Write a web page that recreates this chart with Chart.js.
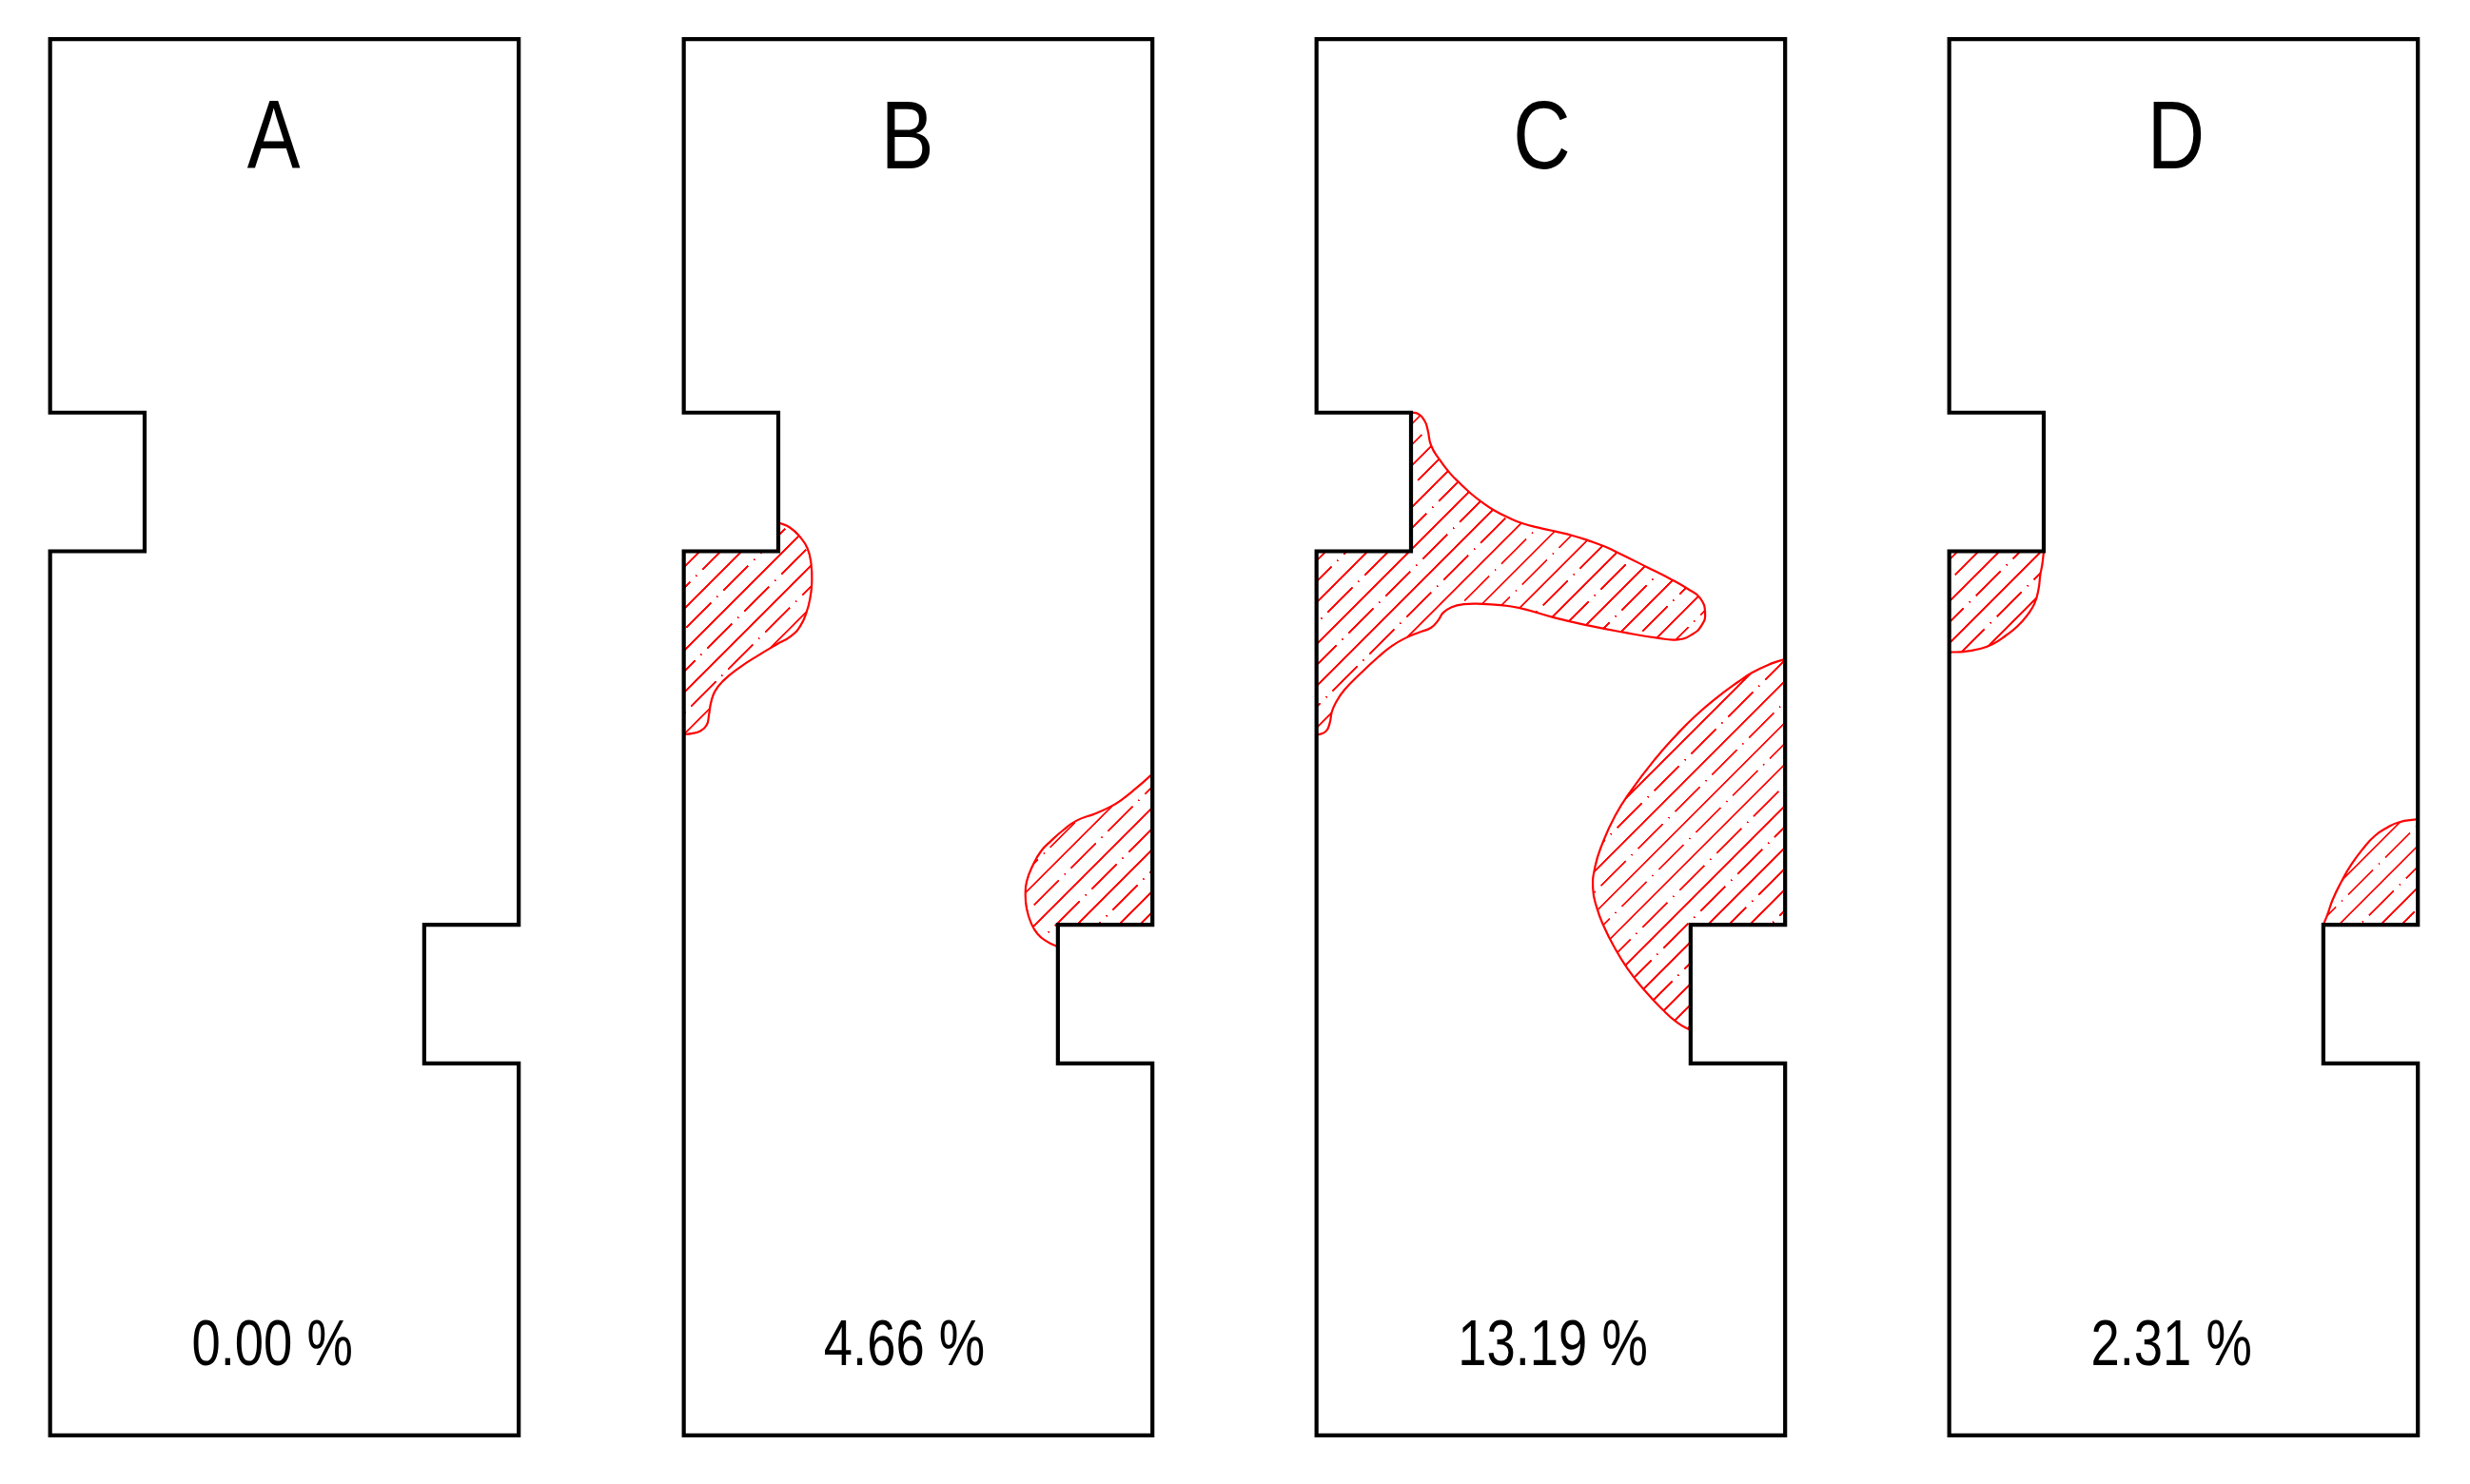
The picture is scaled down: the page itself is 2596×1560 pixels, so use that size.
<!DOCTYPE html>
<html>
<head>
<meta charset="utf-8">
<title>Panels A-D</title>
<script src="https://cdn.jsdelivr.net/npm/chart.js"></script>
<style>
  html, body { margin: 0; padding: 0; background: #fff; width: 2596px; height: 1560px; overflow: hidden; }
  canvas { position: absolute; }
</style>
</head>
<body>
<script>
// panel names and area shares
const panelNames = ["A", "B", "C", "D"];
const areaLabels = ["0.00 %", "4.66 %", "13.19 %", "2.31 %"];

// outline of the slab, same for all four panels
const outlineX = [0, 297.5, 297.5, 237.5, 237.5, 297.5, 297.5, 0, 0, 60, 60, 0, 0];
const outlineY = [0, 0, 562, 562, 650, 650, 886, 886, 325, 325, 237, 237, 0];

// panel B, zone at the left notch
const bLeftX = [60, 67.3, 73.7, 78.5, 80.8, 81.3, 80.2, 78, 74.2, 68.3, 58.6, 47.9, 34.9, 25.2, 19.8, 17.2, 16, 14.4, 10.1, 4.7, 0];
const bLeftY = [306.7, 309.9, 315.8, 323.2, 332.6, 344.9, 354.7, 363.4, 372, 378.6, 384.3, 390.7, 399.1, 407, 413.8, 421.2, 428.6, 435.5, 439.2, 440.7, 441.2];
const bLeftEdgeX = [0, 60];
const bLeftEdgeY = [325, 325];
const bLeftDot = [34.5, 367];

// panel B, zone at the right notch
const bRightX = [297.5, 287.1, 278.5, 271, 261.3, 249.4, 240.8, 233.2, 226.8, 221.4, 217.7, 216.9, 217.7, 220.3, 224.6, 230.7, 237.5];
const bRightY = [466.3, 475.4, 482.3, 487, 491.4, 495.9, 502, 508.7, 515.3, 524.7, 534.5, 543.2, 551.8, 560.4, 567.8, 572.7, 575.9];
const bRightEdgeX = [237.5, 297.5];
const bRightEdgeY = [562, 562];
const bRightDot = [255.2, 543.2];

// panel C, zone at the left notch
const cLeftX = [60, 64.2, 68.5, 70.6, 72.8, 78.2, 84.7, 91.2, 97.6, 105.2, 112.8, 121.4, 130, 140.9, 151.7, 162.5, 173.2, 183, 191.6, 208.9, 226.2, 235.9, 243.5, 246.7, 244.5, 238, 229.4, 216.5, 194.9, 172.2, 150.6, 129, 117, 105.2, 93.3, 85.8, 80.4, 77.1, 72.8, 65.2, 56.6, 48, 39.3, 28.5, 17.7, 12.3, 9.7, 8.4, 5.8, 0];
const cLeftY = [237, 237.6, 242, 248, 258, 267, 275.4, 282, 288, 294, 299, 303.4, 307, 310, 312.4, 315, 318.4, 322, 326, 334.6, 343.4, 349, 354.6, 364, 372, 378, 381, 380, 376.4, 372, 367, 361, 359.2, 358.4, 358.6, 360.4, 364, 369, 373.4, 376.4, 380, 385, 392, 402, 413, 421, 427, 434, 439.4, 441.6];
const cLeftEdgeX = [0, 60];
const cLeftEdgeY = [325, 325];
const cLeftDot = [100.2, 323.6];

// panel C, zone at the right notch
const cRightX = [297.5, 287.8, 276.6, 267.5, 255.3, 241.1, 229, 214.8, 199.6, 189.5, 181.3, 176.9, 175.5, 177.9, 182.4, 189.5, 197.6, 207.7, 219.9, 229, 237.5];
const cRightY = [393.4, 396.6, 402, 408, 417, 429, 441, 457, 477, 493, 511, 525, 539, 551, 563, 577, 590, 603, 616, 624, 629];
const cRightEdgeX = [237.5, 297.5];
const cRightEdgeY = [562, 562];
const cRightDot = [247.2, 470.6];

// panel D, zone at the left notch
const dLeftX = [60, 59.1, 57.8, 56.7, 54.2, 49.9, 43.5, 36, 27.4, 18.8, 9.2, 0];
const dLeftY = [325, 333, 340, 349, 358, 365, 372.4, 378.4, 384, 387, 388.7, 389];
const dLeftEdgeX = [0];
const dLeftEdgeY = [325];
const dLeftDot = [26.3, 370.4];

// panel D, zone at the right notch
const dRightX = [297.5, 285.3, 277.8, 270.3, 262.8, 255.3, 248.9, 243.5, 240.3, 237.5];
const dRightY = [495, 497, 500.5, 505.5, 513.6, 523.7, 534.8, 545.9, 555, 562];
const dRightEdgeX = [297.5];
const dRightEdgeY = [562];
const dRightDot = [272.9, 523.3];

const zone = (x, y, edgeX, edgeY, dot) => ({ x, y, edgeX, edgeY, dot });
const panelZones = [
  [],
  [zone(bLeftX, bLeftY, bLeftEdgeX, bLeftEdgeY, bLeftDot), zone(bRightX, bRightY, bRightEdgeX, bRightEdgeY, bRightDot)],
  [zone(cLeftX, cLeftY, cLeftEdgeX, cLeftEdgeY, cLeftDot), zone(cRightX, cRightY, cRightEdgeX, cRightEdgeY, cRightDot)],
  [zone(dLeftX, dLeftY, dLeftEdgeX, dLeftEdgeY, dLeftDot), zone(dRightX, dRightY, dRightEdgeX, dRightEdgeY, dRightDot)]
];

// layout
const xMin = -30, xMax = 330, yMin = -20, yMax = 906;
const canvasW = 596, canvasH = 1534;
const canvasLeft = [3, 669, 1334, 1999];
const canvasTop = 8;
const namePos = [[142, 65], [142, 65], [143, 65], [144, 65]];
const labelPos = [[141, 830], [140, 830], [150, 830], [141, 830]];
const RED = "#ff0000";
const textFont = '"Liberation Sans", sans-serif';

const toPoints = (xs, ys) => xs.map((x, i) => ({ x, y: ys[i] }));

// one tile: solid row + dash-dot row, laid flat and rotated by the pattern matrix
const RES = 4, TILE_W = 55, TILE_H = 31;
function hatchTile() {
  const c = document.createElement("canvas");
  c.width = TILE_W * RES;
  c.height = TILE_H * RES;
  const g = c.getContext("2d");
  g.fillStyle = RED;
  const lw = 1.9 * RES;
  g.fillRect(0, 7.75 * RES - lw / 2, c.width, lw);
  g.fillRect(0, 23.25 * RES - lw / 2, 37 * RES, lw);
  g.fillRect(45.25 * RES, 23.25 * RES - lw / 2, 1.5 * RES, lw);
  return c;
}

// dot = a dash-dot dot, fixes where the hatch falls
function hatchPattern(ctx, tile, dot) {
  const px = (dot[0] - xMin) / (xMax - xMin) * canvasW;
  const py = (dot[1] - yMin) / (yMax - yMin) * canvasH;
  const sum = px + py - 23.25 * Math.SQRT2;
  const diff = px - py - 46 * Math.SQRT2;
  const p = ctx.createPattern(tile, "repeat");
  p.setTransform(new DOMMatrix().translate((sum + diff) / 2, (sum - diff) / 2).rotate(-45).scale(1 / RES));
  return p;
}

function narrowText(ctx, text, x, y, size, squeeze) {
  ctx.save();
  ctx.translate(x, y);
  ctx.scale(squeeze, 1);
  ctx.font = `${size}px ${textFont}`;
  ctx.fillText(text, 0, 0);
  ctx.restore();
}

// panel letter and percentage
const panelText = {
  id: "panelText",
  afterDraw(chart, args, opts) {
    const { ctx, scales } = chart;
    ctx.save();
    ctx.fillStyle = "#000";
    ctx.textAlign = "center";
    ctx.textBaseline = "middle";
    narrowText(ctx, opts.name, scales.x.getPixelForValue(opts.namePos[0]), scales.y.getPixelForValue(opts.namePos[1]), 102, 0.82);
    narrowText(ctx, opts.label, scales.x.getPixelForValue(opts.labelPos[0]), scales.y.getPixelForValue(opts.labelPos[1]), 68, 0.8);
    ctx.restore();
  }
};

const tile = hatchTile();

panelNames.forEach((name, i) => {
  const canvas = document.createElement("canvas");
  canvas.width = canvasW;
  canvas.height = canvasH;
  canvas.style.left = canvasLeft[i] + "px";
  canvas.style.top = canvasTop + "px";
  canvas.style.width = canvasW + "px";
  canvas.style.height = canvasH + "px";
  document.body.appendChild(canvas);
  const ctx = canvas.getContext("2d");

  const datasets = [{
    data: toPoints(outlineX, outlineY),
    borderColor: "#000",
    borderWidth: 4.2,
    borderCapStyle: "square",
    borderJoinStyle: "miter",
    pointRadius: 0,
    tension: 0,
    fill: false,
    order: 0
  }];

  panelZones[i].forEach(z => {
    datasets.push({
      data: toPoints(z.x, z.y),
      borderColor: RED,
      borderWidth: 2.2,
      pointRadius: 0,
      tension: 0.5,
      fill: false,
      order: 1
    });
    datasets.push({
      data: toPoints(z.x.concat(z.edgeX, z.x[0]), z.y.concat(z.edgeY, z.y[0])),
      borderWidth: 0,
      borderColor: "rgba(0,0,0,0)",
      backgroundColor: hatchPattern(ctx, tile, z.dot),
      pointRadius: 0,
      tension: 0,
      fill: "shape",
      order: 2
    });
  });

  new Chart(ctx, {
    type: "line",
    data: { datasets },
    plugins: [panelText],
    options: {
      responsive: false,
      animation: false,
      devicePixelRatio: 1,
      events: [],
      layout: { padding: 0 },
      scales: {
        x: { type: "linear", display: false, min: xMin, max: xMax },
        y: { type: "linear", display: false, min: yMin, max: yMax, reverse: true }
      },
      plugins: {
        legend: { display: false },
        tooltip: { enabled: false },
        panelText: { name, label: areaLabels[i], namePos: namePos[i], labelPos: labelPos[i] }
      }
    }
  });
});
</script>
</body>
</html>
